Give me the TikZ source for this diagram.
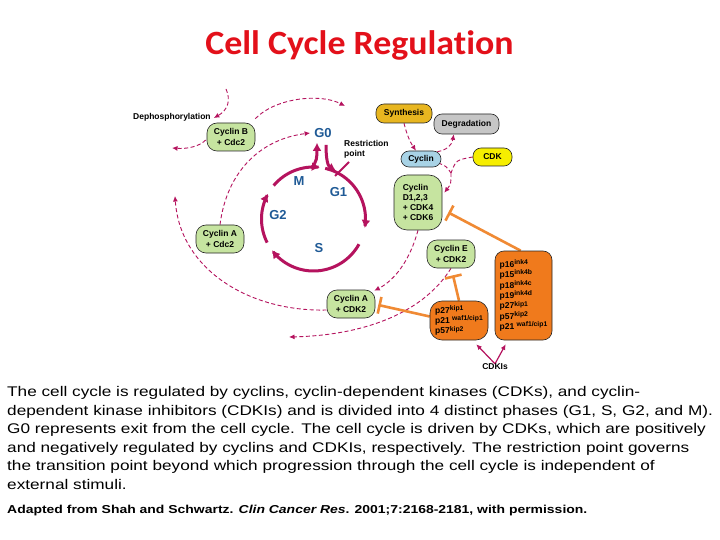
\documentclass[tikz,border=0pt]{standalone}
\usepackage{fontspec}
\setmainfont{Liberation Sans}
\newfontfamily\titlefont[FakeStretch=1.055,Ligatures=NoCommon]{Carlito}
\newfontfamily\parafont[FakeStretch=1.229]{Liberation Sans}
\newfontfamily\citefont[FakeStretch=1.213]{Liberation Sans}
\usetikzlibrary{arrows.meta,calc}
\pgfdeclarelayer{paper}
\pgfdeclarelayer{links}
\pgfsetlayers{paper,links,main}
\definecolor{mag}{HTML}{B5135E}
\definecolor{cgreen}{HTML}{C6E4A0}
\definecolor{cblue}{HTML}{A8D3E6}
\definecolor{cgold}{HTML}{E8B620}
\definecolor{cgray}{HTML}{C6C6C6}
\definecolor{cyel}{HTML}{F6EE00}
\definecolor{corange}{HTML}{F07A1C}
\definecolor{oline}{HTML}{F08A34}
\definecolor{lblue}{HTML}{1F5A96}
\definecolor{tred}{HTML}{E3101A}
\newcommand\spx[1]{\raisebox{2.8pt}{\fontsize{6.8}{6}\selectfont #1}}
\begin{document}
\begin{tikzpicture}[x=1pt,y=-1pt,
  box/.style={draw=black!85, line width=0.6pt, rounded corners=10pt, inner sep=0pt,
    font=\fontsize{8.5}{10.3}\selectfont\bfseries, align=center},
  gbox/.style={box, fill=cgreen, minimum width=48pt, minimum height=28pt},
  pillbox/.style={box, rounded corners=8pt},
  obox/.style={box, fill=corange, align=left, rounded corners=9pt, font=\fontsize{8.5}{10.4}\selectfont\bfseries},
  lab/.style={inner sep=0pt, font=\fontsize{8.5}{10.5}\selectfont\bfseries, align=left},
  phase/.style={inner sep=1pt, text=lblue, font=\fontsize{13}{13}\selectfont\bfseries},
  dashline/.style={mag, line width=0.9pt, dash pattern=on 4pt off 2.5pt},
  dasharrow/.style={dashline, -{Latex[length=5.5pt,width=5pt]}},
  cyclearrow/.style={mag, line width=3pt, -{Latex[length=8pt,width=9pt]}},
  solidarrow/.style={mag, line width=1.2pt, -{Latex[length=5.5pt,width=5pt]}},
  inhib/.style={oline, line width=2.6pt, -{Bar[width=17pt]}},
  para/.style={inner sep=0pt, anchor=base west, font=\parafont\fontsize{14}{18}\selectfont}
]
\useasboundingbox (0,0) rectangle (720,540);
\begin{pgfonlayer}{paper}
\fill[white] (0,0) rectangle (720,540);
\end{pgfonlayer}

% title
\node[inner sep=0pt, anchor=base, text=tred, font=\titlefont\fontsize{34}{34}\selectfont\bfseries] (title) at (359.5,55) {Cell Cycle Regulation};

% boxes
\node[gbox] (cycB) at (231,137) {Cyclin B\\+ Cdc2};
\node[gbox] (cycAc) at (220,239) {Cyclin A\\+ Cdc2};
\node[gbox] (cycA2) at (351,304) {Cyclin A\\+ CDK2};
\node[gbox] (cycE) at (451,254) {Cyclin E\\+ CDK2};
\node[gbox, minimum height=55pt, rounded corners=13pt, align=left] (cycD) at (418,202.5) {Cyclin\\D1,2,3\\+ CDK4\\+ CDK6};
\node[pillbox, fill=cblue, minimum width=40pt, minimum height=16pt] (cyclin) at (421,159) {Cyclin};
\node[pillbox, fill=cgold, minimum width=56pt, minimum height=19pt] (synth) at (404,113.5) {Synthesis};
\node[pillbox, fill=cgray, minimum width=65pt, minimum height=20pt] (degr) at (466.5,124) {Degradation};
\node[pillbox, fill=cyel, minimum width=39pt, minimum height=18pt] (cdk) at (492.5,157) {CDK};
\node[obox, minimum width=57pt, minimum height=89pt] (big) at (523.5,295.5)
  {p16\spx{ink4}\\p15\spx{ink4b}\\p18\spx{ink4c}\\p19\spx{ink4d}\\p27\spx{kip1}\\p57\spx{kip2}\\p21 \spx{waf1/cip1}};
\node[obox, minimum width=58pt, minimum height=39pt, rounded corners=12pt] (small) at (459,320.5)
  {p27\spx{kip1}\\p21 \spx{waf1/cip1}\\p57\spx{kip2}};

% labels
\node[lab, anchor=west] (deph) at (133,117) {Dephosphorylation};
\node[lab, anchor=north west] (restr) at (344,140) {Restriction\\point};
\node[lab] (cdkis) at (495,367) {CDKIs};
\node[phase] (g0) at (323,133) {G0};
\node[phase] (mlab) at (299,181.5) {M};
\node[phase] (g1) at (338.5,192) {G1};
\node[phase] (g2) at (278,215) {G2};
\node[phase] (slab) at (319,248) {S};

\begin{pgfonlayer}{links}
% cell cycle
\coordinate (C) at (313.5,219);
\draw[cyclearrow] plot[domain=220:277, samples=40] ({313.5+52*cos(\x)},{219+52*sin(\x)});
\draw[cyclearrow] plot[domain=-77:10, samples=40] ({313.5+52*cos(\x)},{219+52*sin(\x)});
\draw[cyclearrow] plot[domain=29:143, samples=50] ({313.5+52*cos(\x)},{219+52*sin(\x)});
\draw[cyclearrow] plot[domain=153:209, samples=30] ({313.5+52*cos(\x)},{219+52*sin(\x)});
\coordinate (lb) at (311,168);
\coordinate (rb) at (336,171);
\draw[cyclearrow] (lb) .. controls (317,163) and (317,156) .. ($(g0.south)+(-6,4)$);
\draw[cyclearrow] ($(g0.south)+(3,6)$) .. controls (326,160) and (328,166) .. (rb);
\coordinate (rp1) at (335,176);
\coordinate (rp2) at (349,162);
\draw[mag, line width=1.8pt] (rp1) -- (rp2);

% dashed regulation arrows
\coordinate (d1) at (226,89);
\draw[dasharrow] (d1) .. controls (231,100) and (228,110) .. ($(deph.east)+(3,1)$);
\coordinate (d3) at (172,148);
\draw[dasharrow] ($(cycB.west)+(-1,3)$) .. controls (199,147) and (186,149) .. (d3);
\coordinate (d4) at (345,106);
\draw[dasharrow] ($(cycB.north east)+(0,-4)$) .. controls (275,98) and (320,93) .. (d4);
\draw[dasharrow] (cycAc.north) .. controls (227,170) and (262,139) .. ($(g0.west)+(-3,0)$);
\coordinate (d5) at (175,196);
\draw[dasharrow] ($(cycA2.west)+(0,6)$) .. controls (250,312) and (180,270) .. (d5);
\coordinate (d6) at (289,337);
\draw[dasharrow] (cycE.south) .. controls (425,310) and (370,335) .. (d6);
\draw[dasharrow] (cycD.south) .. controls (410,260) and (395,280) .. ($(cycA2.north east)+(-1,1)$);
\draw[dasharrow] (synth.south) .. controls (407,135) and (410,142) .. ($(cyclin.north)+(-5,0)$);
\draw[dasharrow] ($(cyclin.north east)+(-4,1)$) .. controls (447,150) and (452,145) .. ($(degr.south west)+(20,0)$);
\coordinate (j) at (451,173);
\draw[dashline] ($(cyclin.east)+(-3,4)$) .. controls (446,166) .. (j);
\draw[dashline] (cdk.west) .. controls (456,160) .. (j);
\draw[dasharrow] (j) .. controls (451,184) .. ($(cycD.north east)+(2,18)$);

% CDKI arrows
\draw[solidarrow] (cdkis.north) -- ($(small.south east)+(-12,4)$);
\draw[solidarrow] (cdkis.north) -- ($(big.south west)+(11,4)$);

% inhibition
\draw[inhib] ($(big.north west)+(26,0)$) -- ($(cycD.east)+(6,10)$);
\draw[inhib] (small.north) -- ($(cycE.south)+(2,7)$);
\draw[inhib] ($(small.west)+(0,-4)$) -- ($(cycA2.east)+(3,1)$);
\end{pgfonlayer}

% caption text
\node[para] (p1) at (7,396.3) {The cell cycle is regulated by cyclins, cyclin-dependent kinases (CDKs), and cyclin-};
\node[para] (p2) at (7,415) {dependent kinase inhibitors (CDKIs) and is divided into 4 distinct phases (G1, S, G2, and M).};
\node[para] (p3) at (7,433.5) {G0 represents exit from the cell cycle. The cell cycle is driven by CDKs, which are positively};
\node[para] (p4) at (7,452.2) {and negatively regulated by cyclins and CDKIs, respectively. The restriction point governs};
\node[para] (p5) at (7,470.9) {the transition point beyond which progression through the cell cycle is independent of};
\node[para] (p6) at (7,489.6) {external stimuli.};
\node[para, font=\citefont\fontsize{11.5}{14}\selectfont\bfseries] (cite) at (7,513) {Adapted from Shah and Schwartz. \textit{Clin Cancer Res}. 2001;7:2168-2181, with permission.};
\end{tikzpicture}
\end{document}
